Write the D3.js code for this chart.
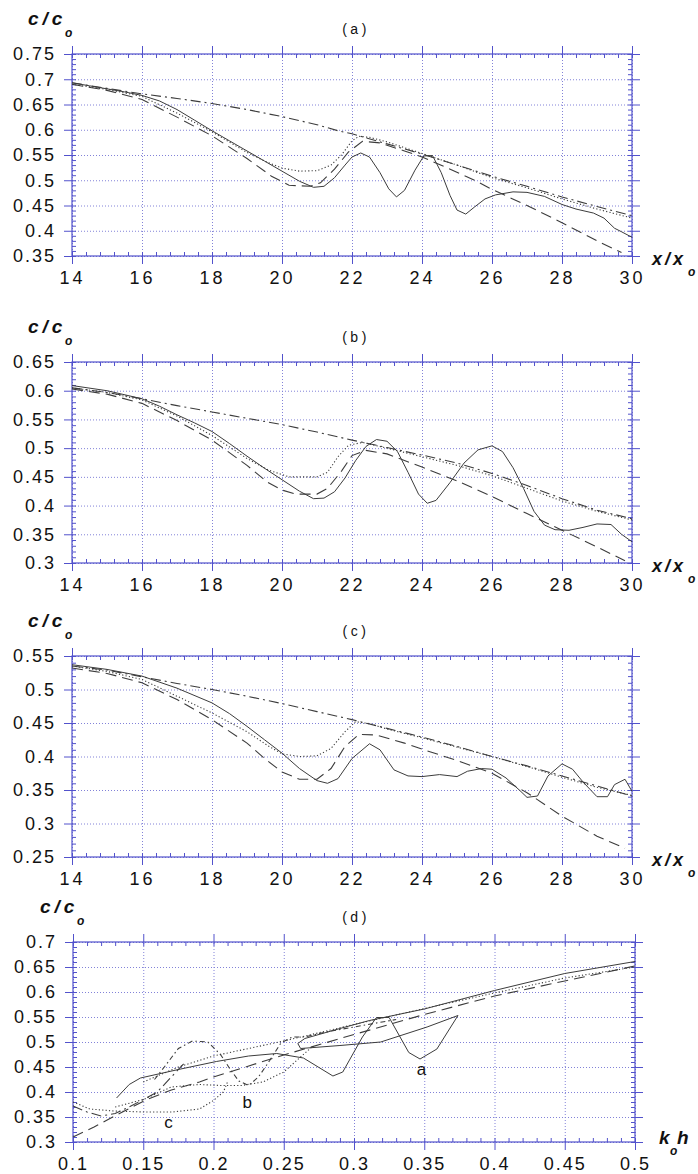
<!DOCTYPE html>
<html>
<head>
<meta charset="utf-8">
<script src="https://cdn.jsdelivr.net/npm/d3@7"></script>
<style>
  body { margin: 0; background: #fff; }
  svg { display: block; }
</style>
</head>
<body>
<div id="chart"></div>
<script>
// ---- tick values ----
const xTicksAC = [14, 16, 18, 20, 22, 24, 26, 28, 30];
const xTicksD = [0.1, 0.15, 0.2, 0.25, 0.3, 0.35, 0.4, 0.45, 0.5];
const yTicksA = [0.35, 0.4, 0.45, 0.5, 0.55, 0.6, 0.65, 0.7, 0.75];
const yTicksB = [0.3, 0.35, 0.4, 0.45, 0.5, 0.55, 0.6, 0.65];
const yTicksC = [0.25, 0.3, 0.35, 0.4, 0.45, 0.5, 0.55];
const yTicksD = [0.3, 0.35, 0.4, 0.45, 0.5, 0.55, 0.6, 0.65, 0.7];

// ---- panel (a) ----
const aSolid = [[14,0.693],[14.5,0.687],[15,0.681],[15.5,0.675],[16,0.668],[16.5,0.657],[17,0.64],[17.5,0.619],[18,0.598],[18.5,0.578],[19,0.558],[19.5,0.538],[20,0.518],[20.5,0.498],[20.9,0.486],[21.2,0.488],[21.5,0.505],[21.8,0.53],[22,0.546],[22.25,0.554],[22.5,0.546],[22.8,0.515],[23.05,0.483],[23.27,0.467],[23.5,0.48],[23.8,0.52],[24.05,0.548],[24.3,0.549],[24.55,0.515],[24.8,0.47],[25,0.441],[25.25,0.433],[25.5,0.447],[25.8,0.463],[26.1,0.471],[26.6,0.477],[27,0.476],[27.5,0.468],[28,0.452],[28.4,0.443],[28.9,0.435],[29.2,0.425],[29.5,0.405],[29.7,0.398],[30,0.387]];
const aDotted = [[14,0.69],[15,0.68],[16,0.666],[17,0.633],[18,0.596],[19,0.555],[19.6,0.535],[20,0.524],[20.5,0.518],[21,0.519],[21.4,0.53],[21.7,0.55],[22,0.578],[22.2,0.587],[22.5,0.585],[23,0.576],[24,0.553],[25,0.53],[26,0.505],[27,0.485],[28,0.463],[29,0.443],[30,0.425]];
const aDashed = [[14,0.69],[15,0.678],[16,0.66],[17,0.625],[18,0.588],[19,0.543],[19.7,0.508],[20.2,0.49],[20.8,0.488],[21.1,0.495],[21.5,0.522],[21.9,0.556],[22.3,0.577],[22.8,0.574],[23.5,0.558],[24,0.546],[24.7,0.525],[25.5,0.5],[26,0.482],[27,0.45],[28,0.416],[29,0.38],[29.7,0.357]];
const aDashDot = [[14,0.693],[15,0.682],[16,0.671],[17,0.662],[18,0.652],[19,0.64],[20,0.626],[21,0.61],[21.6,0.598],[22,0.592],[22.2,0.588],[23,0.572],[24,0.552],[25,0.53],[26,0.508],[27,0.488],[28,0.467],[29,0.448],[30,0.43]];

// ---- panel (b) ----
const bSolid = [[14,0.609],[15,0.6],[16,0.586],[16.5,0.573],[17,0.558],[17.5,0.544],[18,0.529],[18.5,0.508],[19,0.486],[19.5,0.465],[20,0.445],[20.5,0.425],[20.9,0.412],[21.2,0.413],[21.5,0.424],[21.8,0.448],[22.1,0.478],[22.4,0.503],[22.7,0.515],[23,0.512],[23.3,0.494],[23.6,0.458],[23.9,0.42],[24.15,0.404],[24.4,0.409],[24.8,0.44],[25.2,0.474],[25.6,0.497],[26,0.504],[26.3,0.494],[26.6,0.466],[26.9,0.43],[27.2,0.39],[27.5,0.366],[27.8,0.358],[28.2,0.357],[28.6,0.362],[29,0.368],[29.4,0.367],[29.7,0.35],[30,0.337]];
const bDotted = [[14,0.605],[15,0.597],[16,0.584],[17,0.556],[18,0.522],[19,0.482],[19.6,0.462],[20.2,0.45],[21,0.45],[21.3,0.458],[21.6,0.485],[21.9,0.505],[22.3,0.51],[23,0.5],[24,0.485],[25,0.47],[26,0.452],[27,0.43],[28,0.408],[29,0.39],[30,0.375]];
const bDashed = [[14,0.603],[15,0.594],[16,0.578],[17,0.548],[18,0.514],[19,0.47],[19.6,0.44],[20,0.427],[20.4,0.42],[21,0.42],[21.3,0.43],[21.7,0.46],[22,0.487],[22.4,0.496],[23,0.49],[24,0.467],[25,0.443],[26,0.416],[27,0.386],[28,0.357],[29,0.328],[29.8,0.304]];
const bDashDot = [[14,0.605],[15,0.597],[16,0.586],[17,0.574],[18,0.563],[19,0.552],[20,0.541],[21,0.528],[22,0.514],[23,0.501],[24,0.488],[25,0.474],[26,0.456],[27,0.435],[28,0.412],[29,0.392],[30,0.377]];

// ---- panel (c) ----
const cSolid = [[14,0.537],[15,0.53],[16,0.52],[17,0.502],[18,0.48],[18.5,0.464],[19,0.445],[19.5,0.425],[20,0.405],[20.5,0.382],[21,0.364],[21.3,0.36],[21.6,0.367],[22,0.397],[22.5,0.419],[22.8,0.41],[23.2,0.38],[23.6,0.371],[24,0.37],[24.5,0.373],[25,0.37],[25.3,0.378],[25.7,0.382],[26,0.381],[26.4,0.368],[26.8,0.349],[27,0.339],[27.3,0.341],[27.6,0.371],[28,0.389],[28.3,0.381],[28.6,0.362],[29,0.34],[29.3,0.34],[29.5,0.358],[29.8,0.366],[30,0.348]];
const cDotted = [[14,0.535],[15,0.527],[16,0.515],[17,0.49],[18,0.465],[19,0.437],[19.6,0.416],[20,0.404],[20.5,0.4],[21,0.401],[21.4,0.412],[21.8,0.437],[22.1,0.452],[22.5,0.449],[23,0.441],[24,0.428],[25,0.414],[26,0.4],[27,0.385],[28,0.369],[29,0.354],[30,0.342]];
const cDashed = [[14,0.532],[15,0.524],[16,0.51],[17,0.485],[18,0.455],[19,0.42],[19.5,0.397],[20,0.377],[20.5,0.366],[21,0.366],[21.4,0.382],[21.8,0.415],[22.2,0.433],[22.7,0.432],[23.5,0.42],[24,0.411],[25,0.394],[26,0.375],[27,0.346],[28,0.311],[29,0.281],[29.8,0.263]];
const cDashDot = [[14,0.535],[15,0.529],[16,0.519],[17,0.509],[18,0.5],[19,0.49],[20,0.479],[21,0.467],[22,0.455],[23,0.442],[24,0.429],[25,0.415],[26,0.4],[27,0.386],[28,0.371],[29,0.356],[30,0.341]];

// ---- panel (d) ----
const dSolidA = [[0.131,0.388],[0.14,0.415],[0.148,0.428],[0.175,0.445],[0.202,0.461],[0.225,0.472],[0.245,0.477],[0.264,0.468],[0.285,0.432],[0.292,0.44],[0.306,0.51],[0.316,0.549],[0.325,0.549],[0.339,0.479],[0.347,0.466],[0.359,0.486],[0.374,0.553]];
const dSolidLoop = [[0.374,0.553],[0.352,0.53],[0.319,0.5],[0.29,0.493],[0.262,0.487],[0.26,0.497],[0.265,0.507],[0.29,0.527],[0.311,0.543],[0.35,0.566],[0.4,0.603],[0.45,0.637],[0.5,0.661]];
const dDashDot = [[0.1,0.31],[0.115,0.33],[0.125,0.345],[0.138,0.364],[0.152,0.384],[0.17,0.404],[0.19,0.42],[0.2,0.43],[0.25,0.474],[0.3,0.515],[0.35,0.555],[0.4,0.592],[0.45,0.622],[0.5,0.652]];
const dDotted = [[0.15,0.42],[0.175,0.45],[0.2,0.472],[0.25,0.502],[0.3,0.535],[0.35,0.567],[0.4,0.598],[0.45,0.628],[0.5,0.65]];
const dDashDotB = [[0.158,0.425],[0.165,0.45],[0.175,0.487],[0.185,0.502],[0.196,0.5],[0.205,0.475],[0.212,0.445],[0.218,0.422],[0.225,0.413],[0.232,0.43],[0.24,0.463],[0.248,0.498],[0.256,0.51],[0.265,0.51],[0.28,0.52],[0.3,0.53],[0.33,0.545]];
const dDottedB = [[0.13,0.37],[0.15,0.385],[0.17,0.41],[0.19,0.415],[0.205,0.413],[0.22,0.413],[0.235,0.42],[0.25,0.44],[0.262,0.47],[0.27,0.49]];
const dDottedC = [[0.1,0.38],[0.112,0.366],[0.129,0.362],[0.15,0.36],[0.171,0.36],[0.19,0.366],[0.2,0.383],[0.207,0.4],[0.21,0.42]];
const dDashDotC = [[0.1,0.372],[0.11,0.36],[0.12,0.352],[0.13,0.357],[0.14,0.37],[0.15,0.385],[0.16,0.4],[0.17,0.43],[0.18,0.46]];
const dCurveLabels = [["a",0.348,0.446],["b",0.224,0.38],["c",0.168,0.34]];

const W = 698, H = 1174;
const axisColor = "#5252cc";
const gridColor = "#8282d8";
const lineColor = "#3c3c3c";
const font = "'Liberation Sans', Arial, sans-serif";

const dashes = {
  solid: null,
  dotted: "1.2,2.2",
  dashed: "11,6",
  dashdot: "10,4,2,4",
  finedash: "5,3,1.5,3"
};

const panels = [
  { title: "(a)", top: 54, bottom: 256, left: 72, right: 632, xDomain: [14, 30], yDomain: [0.35, 0.75],
    xTicks: xTicksAC, yTicks: yTicksA, xMinorStep: 0.4, xLabel: "x",
    series: [[aDashDot, "dashdot"], [aDashed, "dashed"], [aDotted, "dotted"], [aSolid, "solid"]] },
  { title: "(b)", top: 362, bottom: 563, left: 72, right: 632, xDomain: [14, 30], yDomain: [0.3, 0.65],
    xTicks: xTicksAC, yTicks: yTicksB, xMinorStep: 0.4, xLabel: "x",
    series: [[bDashDot, "dashdot"], [bDashed, "dashed"], [bDotted, "dotted"], [bSolid, "solid"]] },
  { title: "(c)", top: 656, bottom: 857, left: 72, right: 632, xDomain: [14, 30], yDomain: [0.25, 0.55],
    xTicks: xTicksAC, yTicks: yTicksC, xMinorStep: 0.4, xLabel: "x",
    series: [[cDashDot, "dashdot"], [cDashed, "dashed"], [cDotted, "dotted"], [cSolid, "solid"]] },
  { title: "(d)", top: 942, bottom: 1142, left: 73, right: 635, xDomain: [0.1, 0.5], yDomain: [0.3, 0.7],
    xTicks: xTicksD, yTicks: yTicksD, xMinorStep: 0.01, xLabel: "k",
    series: [[dDashDot, "dashed"], [dDotted, "dotted"], [dDashDotB, "finedash"], [dDottedB, "dotted"],
             [dDottedC, "dotted"], [dDashDotC, "dashdot"], [dSolidLoop, "solid"], [dSolidA, "solid"]],
    labels: dCurveLabels }
];

const svg = d3.select("#chart").append("svg")
  .attr("width", W)
  .attr("height", H)
  .style("background", "#fff");

const fmtY = d => String(+d.toFixed(2));

function styleTicks(sel, color, dash) {
  sel.select(".domain").remove();
  sel.selectAll("line").attr("stroke", color).attr("stroke-width", 1).attr("stroke-dasharray", dash || null);
}

function drawPanel(p) {
  const x = d3.scaleLinear().domain(p.xDomain).range([p.left, p.right]);
  const y = d3.scaleLinear().domain(p.yDomain).range([p.bottom, p.top]);
  const w = p.right - p.left, h = p.bottom - p.top;
  const g = svg.append("g");

  const xMinor = d3.range(p.xDomain[0], p.xDomain[1] + 1e-9, p.xMinorStep);
  const yMinor = d3.range(p.yDomain[0], p.yDomain[1] + 1e-9, 0.01);

  // dotted grid
  g.append("g").attr("transform", `translate(${p.left},0)`)
    .call(d3.axisLeft(y).tickValues(p.yTicks).tickSize(-w).tickFormat(""))
    .call(s => styleTicks(s, gridColor, "1,2"));
  g.append("g").attr("transform", `translate(0,${p.bottom})`)
    .call(d3.axisBottom(x).tickValues(p.xTicks).tickSize(-h).tickFormat(""))
    .call(s => styleTicks(s, gridColor, "1,2"));

  // minor ticks, pointing inside on all four sides
  g.append("g").attr("transform", `translate(${p.left},0)`)
    .call(d3.axisLeft(y).tickValues(yMinor).tickSize(-4).tickFormat(""))
    .call(s => styleTicks(s, axisColor));
  g.append("g").attr("transform", `translate(${p.right},0)`)
    .call(d3.axisRight(y).tickValues(yMinor).tickSize(-4).tickFormat(""))
    .call(s => styleTicks(s, axisColor));
  g.append("g").attr("transform", `translate(0,${p.top})`)
    .call(d3.axisTop(x).tickValues(xMinor).tickSize(-4).tickFormat(""))
    .call(s => styleTicks(s, axisColor));
  g.append("g").attr("transform", `translate(0,${p.bottom})`)
    .call(d3.axisBottom(x).tickValues(xMinor).tickSize(-4).tickFormat(""))
    .call(s => styleTicks(s, axisColor));

  // major ticks, pointing outside
  const yAxis = g.append("g").attr("transform", `translate(${p.left},0)`)
    .call(d3.axisLeft(y).tickValues(p.yTicks).tickSize(8).tickPadding(8).tickFormat(fmtY))
    .call(s => styleTicks(s, axisColor));
  const xAxis = g.append("g").attr("transform", `translate(0,${p.bottom})`)
    .call(d3.axisBottom(x).tickValues(p.xTicks).tickSize(8).tickPadding(7).tickFormat(fmtY))
    .call(s => styleTicks(s, axisColor));
  g.append("g").attr("transform", `translate(${p.right},0)`)
    .call(d3.axisRight(y).tickValues(p.yTicks).tickSize(8).tickFormat(""))
    .call(s => styleTicks(s, axisColor));
  g.append("g").attr("transform", `translate(0,${p.top})`)
    .call(d3.axisTop(x).tickValues(p.xTicks).tickSize(8).tickFormat(""))
    .call(s => styleTicks(s, axisColor));

  [yAxis, xAxis].forEach(a => a.attr("font-family", null).attr("font-size", null));
  yAxis.selectAll("text")
    .attr("fill", "#111")
    .style("font-family", font)
    .style("font-size", "18px")
    .style("letter-spacing", "2px");
  xAxis.selectAll("text")
    .attr("fill", "#111")
    .style("font-family", font)
    .style("font-size", "18px")
    .style("letter-spacing", p.xLabel === "x" ? "3px" : "2px");

  // frame
  g.append("rect")
    .attr("x", p.left).attr("y", p.top)
    .attr("width", w).attr("height", h)
    .attr("fill", "none")
    .attr("stroke", axisColor)
    .attr("stroke-width", 1.2);

  // curves
  const line = d3.line().x(d => x(d[0])).y(d => y(d[1]));
  g.selectAll("path.curve")
    .data(p.series)
    .join("path")
    .attr("class", "curve")
    .attr("d", d => line(d[0]))
    .attr("fill", "none")
    .attr("stroke", lineColor)
    .attr("stroke-width", d => d[1] === "solid" ? 1 : 1.1)
    .attr("stroke-dasharray", d => dashes[d[1]]);

  if (p.labels) {
    g.selectAll("text.curve-label")
      .data(p.labels)
      .join("text")
      .attr("class", "curve-label")
      .attr("x", d => x(d[1]))
      .attr("y", d => y(d[2]))
      .attr("text-anchor", "middle")
      .attr("dy", "0.35em")
      .style("font-family", font)
      .style("font-size", "17px")
      .attr("fill", "#111")
      .text(d => d[0]);
  }

  // panel title
  svg.append("text")
    .attr("x", 356).attr("y", p.top - 20)
    .attr("text-anchor", "middle")
    .style("font-family", font)
    .style("font-size", "14px")
    .style("letter-spacing", "3.5px")
    .attr("fill", "#111")
    .text(p.title);

  // y axis title c/c_o
  const lx = p.xLabel === "x" ? 28 : 40;
  const italic = s => s
    .style("font-family", font)
    .style("font-style", "italic")
    .style("font-weight", "bold")
    .attr("fill", "#111");
  svg.append("text").attr("x", lx).attr("y", p.top - 29)
    .style("font-size", "19px").style("letter-spacing", "4px")
    .call(italic).text("c/c");
  svg.append("text").attr("x", lx + 37).attr("y", p.top - 17)
    .style("font-size", "12px").call(italic).text("o");

  // x axis title
  if (p.xLabel === "x") {
    svg.append("text").attr("x", 652).attr("y", p.bottom + 9)
      .style("font-size", "18px").style("letter-spacing", "3px")
      .call(italic).text("x/x");
    svg.append("text").attr("x", 688).attr("y", p.bottom + 20)
      .style("font-size", "12px").call(italic).text("o");
  } else {
    svg.append("text").attr("x", 659).attr("y", p.bottom + 2)
      .style("font-size", "19px").call(italic).text("k");
    svg.append("text").attr("x", 670).attr("y", p.bottom + 13)
      .style("font-size", "12px").call(italic).text("o");
    svg.append("text").attr("x", 677).attr("y", p.bottom + 2)
      .style("font-size", "19px").call(italic).text("h");
  }
}

panels.forEach(drawPanel);
</script>
</body>
</html>
